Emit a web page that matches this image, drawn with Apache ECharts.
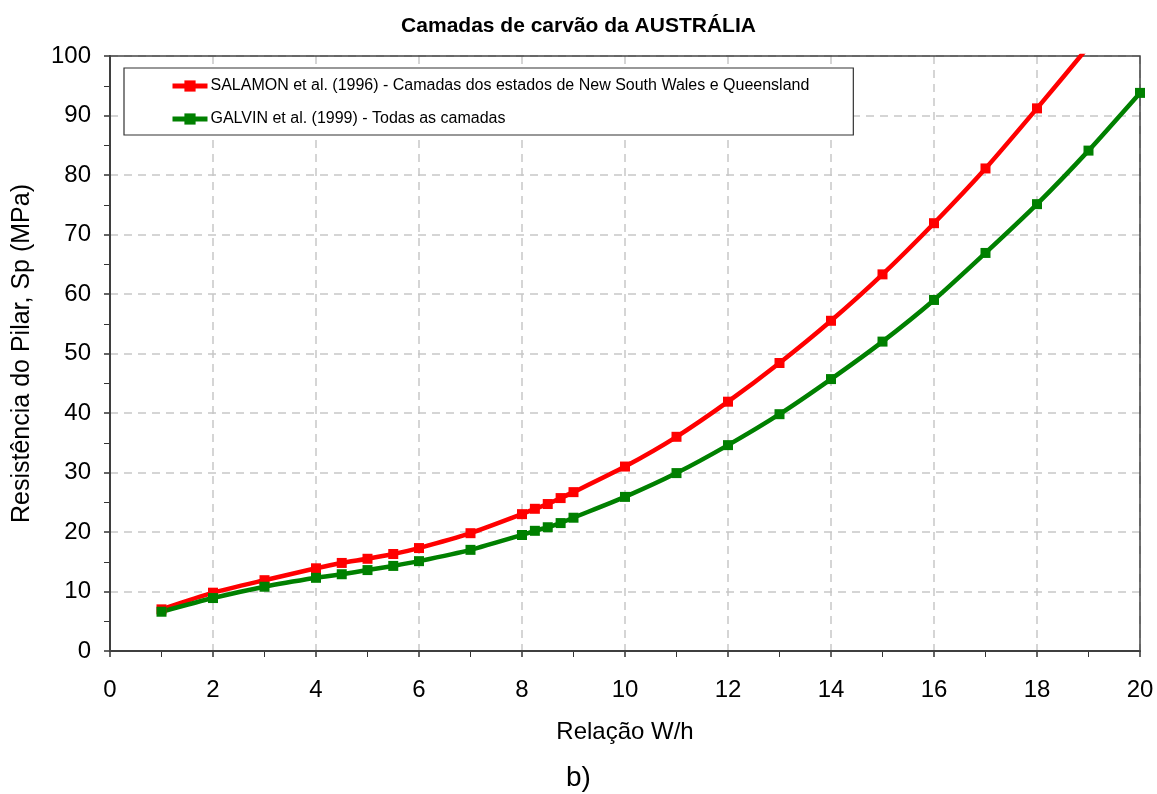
<!DOCTYPE html>
<html><head><meta charset="utf-8">
<script src="https://cdn.jsdelivr.net/npm/echarts@6/dist/echarts.min.js"></script>
<style>html,body{margin:0;padding:0;background:#fff}#c{width:1157px;height:794px}</style>
</head><body><div id="c"></div>
<script>
const salamonX = [1,2,3,4,4.5,5,5.5,6,7,8,8.25,8.5,8.75,9,10,11,12,13,14,15,16,17,18,19,20];
const salamonY = [7.0,9.8,11.9,13.9,14.8,15.5,16.3,17.3,19.8,23.0,23.9,24.7,25.7,26.7,31.0,36.0,41.9,48.4,55.5,63.3,71.9,81.1,91.2,101.6,112.5];
const galvinX = [1,2,3,4,4.5,5,5.5,6,7,8,8.25,8.5,8.75,9,10,11,12,13,14,15,16,17,18,19,20];
const galvinY = [6.6,8.9,10.8,12.3,12.9,13.6,14.3,15.1,17.0,19.5,20.2,20.8,21.5,22.4,25.9,29.9,34.6,39.8,45.7,52.0,59.0,66.9,75.1,84.1,93.8];
const seriesNames = ['SALAMON et al. (1996) - Camadas dos estados de New South Wales e Queensland','GALVIN et al. (1999) - Todas as camadas'];
const colors = ['#ff0000','#008000'];
const titleText = 'Camadas de carvão da AUSTRÁLIA';
const xName = 'Relação W/h';
const yName = 'Resistência do Pilar, Sp (MPa)';
const subLabel = 'b)';

const chart = echarts.init(document.getElementById('c'));
const font = 'Liberation Sans, Arial, sans-serif';
function pairs(xs, ys){ return xs.map((x,i)=>[x, ys[i]]); }
chart.setOption({
  animation:false,
  textStyle:{fontFamily:font},
  title:{text:titleText,left:'center',top:11,textStyle:{fontSize:21,fontWeight:'bold',color:'#000',fontFamily:font}},
  graphic:[
    {type:'text',left:'center',top:764,style:{text:subLabel,fontSize:28,fill:'#000',fontFamily:font}},
    {type:'rect',shape:{x:110,y:56,width:1030,height:595},style:{fill:'none',stroke:'#444',lineWidth:1.5},z:1,silent:true}
  ],
  grid:{left:110,right:17,top:56,bottom:143},
  legend:{
    orient:'vertical',left:124,top:68,
    padding:[10,44,8,46],itemGap:17,
    itemWidth:35,itemHeight:14,
    backgroundColor:'#fff',borderColor:'#333',borderWidth:1.2,
    lineStyle:{width:5},
    textStyle:{fontSize:16,color:'#000',fontFamily:font,padding:[0,0,0,-2]},
    data:seriesNames
  },
  xAxis:{
    type:'value',min:0,max:20,interval:2,
    name:xName,nameLocation:'middle',nameGap:69,
    nameTextStyle:{fontSize:24,color:'#000',fontFamily:font},
    axisLine:{show:true,lineStyle:{color:'#333',width:2}},
    axisTick:{show:true,length:6,lineStyle:{color:'#333',width:1.5}},
    minorTick:{show:true,splitNumber:2,length:6,lineStyle:{color:'#333',width:1}},
    axisLabel:{fontSize:24,color:'#000',margin:27,fontFamily:font},
    splitLine:{show:true,lineStyle:{color:'#c8c8c8',type:[8,6],width:1.5}}
  },
  yAxis:{
    type:'value',min:0,max:100,interval:10,
    name:yName,nameLocation:'middle',nameGap:75,
    nameTextStyle:{fontSize:25,color:'#000',fontFamily:font},
    axisLine:{show:true,lineStyle:{color:'#333',width:2}},
    axisTick:{show:true,length:6,lineStyle:{color:'#333',width:1.5}},
    minorTick:{show:true,splitNumber:2,length:6,lineStyle:{color:'#333',width:1}},
    axisLabel:{fontSize:24,color:'#000',margin:19,fontFamily:font},
    splitLine:{show:true,lineStyle:{color:'#c8c8c8',type:[8,6],width:1.5}}
  },
  series:[
    {name:seriesNames[0],type:'line',data:pairs(salamonX,salamonY),smooth:0.2,clip:true,
     symbol:'rect',symbolSize:10,color:colors[0],lineStyle:{width:4.5,color:colors[0]},itemStyle:{color:colors[0]},z:3},
    {name:seriesNames[1],type:'line',data:pairs(galvinX,galvinY),smooth:0.2,clip:true,
     symbol:'rect',symbolSize:10,color:colors[1],lineStyle:{width:4.5,color:colors[1]},itemStyle:{color:colors[1]},z:3}
  ]
});
</script>
</body></html>
